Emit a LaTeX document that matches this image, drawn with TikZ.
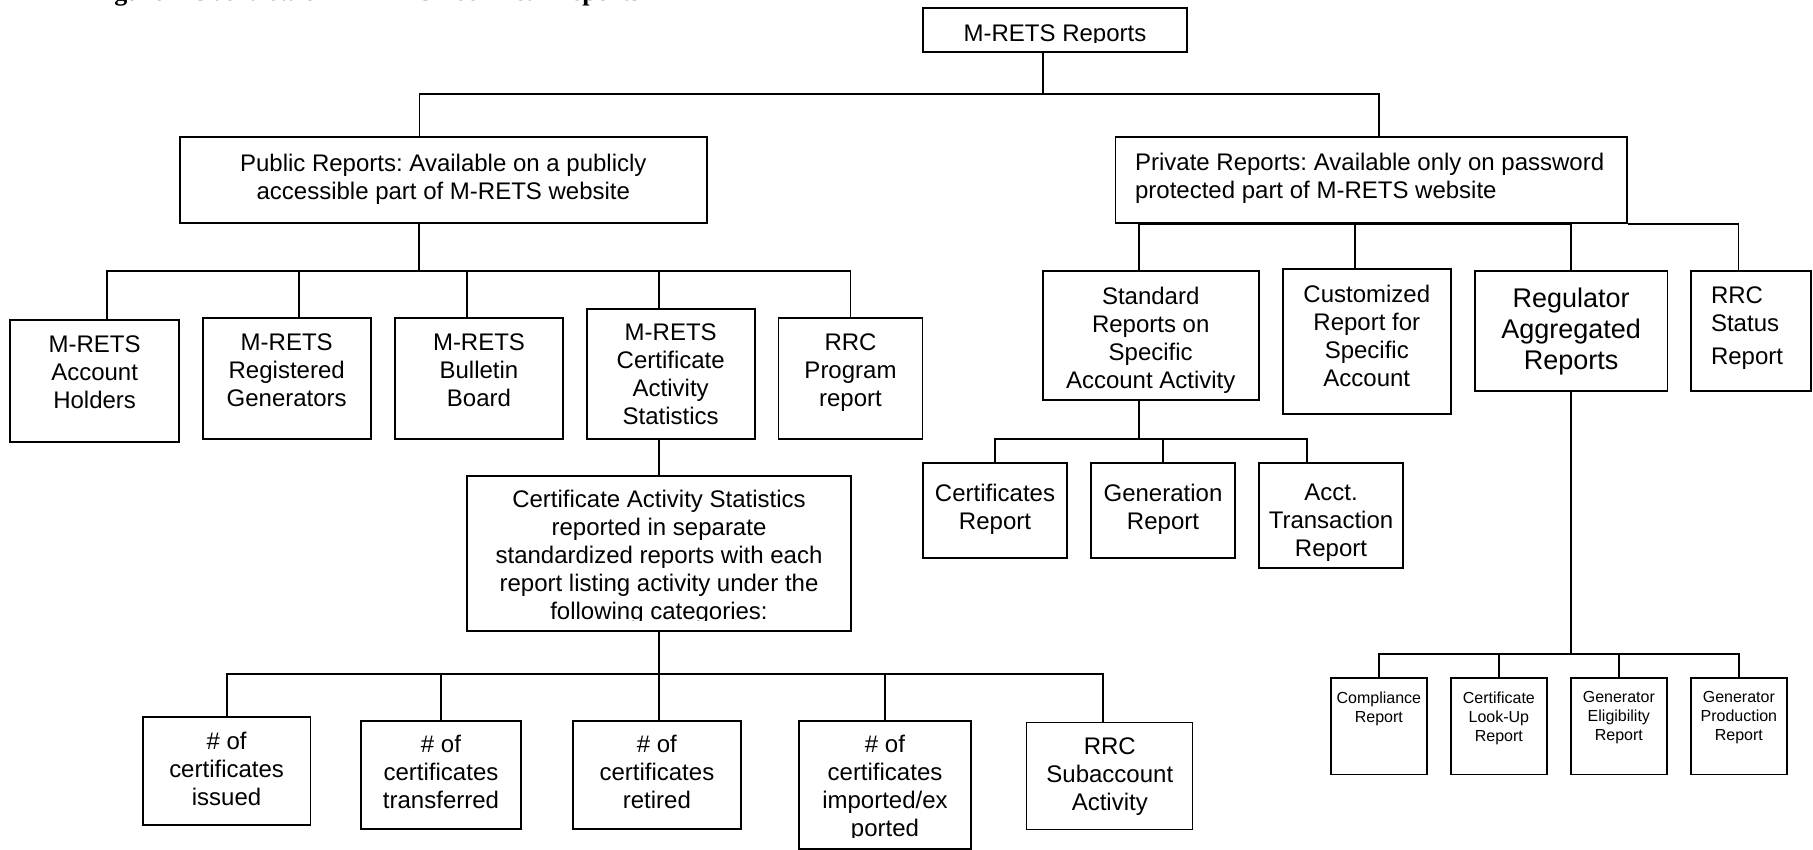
\documentclass[tikz,border=0pt]{standalone}
\usepackage{fontspec}
\setmainfont{Liberation Sans}
\newfontfamily\titlefont{Liberation Serif}
\usetikzlibrary{positioning}
\frenchspacing
\tikzset{
  box/.style={draw, line width=1.8pt, inner sep=0pt},
  txt/.style={inner sep=0pt, align=center, font=\fontsize{24}{28}\selectfont},
  small/.style={inner sep=0pt, align=center, font=\fontsize{16}{19}\selectfont},
  link/.style={line width=1.8pt},
}
\begin{document}
\begin{tikzpicture}[x=1pt,y=-1pt]
\useasboundingbox (0,0) rectangle (1813,850);
\clip (0,0) rectangle (1813,850);
\node[anchor=base west, inner sep=0pt, font=\titlefont\bfseries\fontsize{26}{30}\selectfont] (title) at (91,0.6) {Figure 1 Overview of M-RETS Technical Reports};
% top level
\node[box, minimum width=264.6pt, minimum height=43.4pt] (root) at (1055,30) {};
\begin{scope}
\clip (root.north west) rectangle ([yshift=10pt]root.south east);
\node[txt, below=16.7pt of root.north] (rootT) {M-RETS Reports};
\end{scope}
\node[box, minimum width=527.4pt, minimum height=86.6pt] (pub) at (443.3,180) {};
\node[txt, below=17.7pt of pub.north] (pubT) {Public Reports: Available on a publicly\\accessible part of M-RETS website};
\node[box, minimum width=511.2pt, minimum height=86pt] (priv) at (1371.1,180.3) {};
\node[txt, align=left, below right=17pt and 20.3pt of priv.north west] (privT) {Private Reports: Available only on password\\protected part of M-RETS website};
% public reports
\node[box, minimum width=168.7pt, minimum height=122pt] (acct) at (94.65,381) {};
\node[txt, below=16pt of acct.north] (acctT) {M-RETS\\Account\\Holders};
\node[box, minimum width=168.2pt, minimum height=120.4pt] (gen) at (286.7,378.5) {};
\node[txt, below=16pt of gen.north] (genT) {M-RETS\\Registered\\Generators};
\node[box, minimum width=168pt, minimum height=120.4pt] (bb) at (479,378.5) {};
\node[txt, below=16pt of bb.north] (bbT) {M-RETS\\Bulletin\\Board};
\node[box, minimum width=168.2pt, minimum height=129.7pt] (cas1) at (670.7,373.9) {};
\node[txt, below=15pt of cas1.north] (cas1T) {M-RETS\\Certificate\\Activity\\Statistics};
\node[box, minimum width=144.1pt, minimum height=120.4pt] (rrcp) at (850.5,378.5) {};
\node[txt, below=16pt of rrcp.north] (rrcpT) {RRC\\Program\\report};
\node[box, minimum width=384pt, minimum height=155.3pt] (cas2) at (659,553.3) {};
\begin{scope}
\clip (cas2.north west) rectangle ([yshift=11pt]cas2.south east);
\node[txt, below=15.3pt of cas2.north] (cas2T) {Certificate Activity Statistics\\reported in separate\\standardized reports with each\\report listing activity under the\\following categories:};
\end{scope}
% categories
\node[box, minimum width=167.8pt, minimum height=107.7pt] (iss) at (226.6,771.2) {};
\node[txt, below=15.7pt of iss.north] (issT) {\# of\\certificates\\issued};
\node[box, minimum width=160pt, minimum height=107.7pt] (trn) at (441,774.8) {};
\node[txt, below=15pt of trn.north] (trnT) {\# of\\certificates\\transferred};
\node[box, minimum width=168.2pt, minimum height=107.7pt] (ret) at (656.9,774.8) {};
\node[txt, below=15pt of ret.north] (retT) {\# of\\certificates\\retired};
\node[box, minimum width=172pt, minimum height=128pt] (imp) at (885,785) {};
\begin{scope}
\clip (imp.north west) rectangle ([yshift=12pt]imp.south east);
\node[txt, below=15pt of imp.north] (impT) {\# of\\certificates\\imported/ex\\ported};
\end{scope}
\node[box, line width=1pt, minimum width=166.3pt, minimum height=107pt] (rrcsub) at (1109.8,775.8) {};
\node[txt, below=15.7pt of rrcsub.north] (rrcsubT) {RRC\\Subaccount\\Activity};
% private reports
\node[box, minimum width=216pt, minimum height=129.3pt] (std) at (1150.7,335.3) {};
\node[txt, below=17pt of std.north] (stdT) {Standard\\Reports on\\Specific\\Account Activity};
\node[box, minimum width=168.3pt, minimum height=145.3pt] (cust) at (1366.8,341.7) {};
\node[txt, below=17pt of cust.north] (custT) {Customized\\Report for\\Specific\\Account};
\node[box, minimum width=192.8pt, minimum height=120pt] (reg) at (1571.1,330.7) {};
\node[txt, font=\fontsize{27}{31}\selectfont, below=17.6pt of reg.north] (regT) {Regulator\\Aggregated\\Reports};
\node[box, minimum width=120.5pt, minimum height=120pt] (rrcs) at (1751,330.7) {};
\node[txt, align=left, below right=17pt and 21pt of rrcs.north west] (rrcsT) {RRC\\Status\\[5pt]Report};
\node[box, minimum width=144.6pt, minimum height=95.6pt] (certr) at (995,510.5) {};
\node[txt, below=21.7pt of certr.north] (certrT) {Certificates\\Report};
\node[box, minimum width=144.6pt, minimum height=95.6pt] (genr) at (1163,510.5) {};
\node[txt, below=21.7pt of genr.north] (genrT) {Generation\\Report};
\node[box, minimum width=144.6pt, minimum height=105.6pt] (acctr) at (1331,515.5) {};
\node[txt, below=21.7pt of acctr.north] (acctrT) {Acct.\\Transaction\\Report};
% regulator reports
\node[box, minimum width=96.3pt, minimum height=96.2pt] (comp) at (1378.85,726.4) {};
\node[small, below=14.2pt of comp.north] (compT) {Compliance\\Report};
\node[box, minimum width=96.3pt, minimum height=96.2pt] (look) at (1498.85,726.4) {};
\node[small, below=14.2pt of look.north] (lookT) {Certificate\\Look-Up\\Report};
\node[box, minimum width=96.3pt, minimum height=96.2pt] (elig) at (1618.85,726.4) {};
\node[small, below=14.2pt of elig.north] (eligT) {Generator\\Eligibility\\Report};
\node[box, minimum width=96.3pt, minimum height=96.2pt] (prod) at (1738.85,726.4) {};
\node[small, below=14.2pt of prod.north] (prodT) {Generator\\Production\\Report};
% connectors
\coordinate (bus0) at (1043,94);
\coordinate (bus1) at (419,270.7);
\coordinate (bus2) at (659,674.3);
\coordinate (bus3) at (1138.7,439.3);
\coordinate (bus4) at (1571.1,654.3);
\draw[link] ([xshift=-12pt]root.south) -- (bus0);
\draw[link] ([xshift=-23.8pt]pub.north) |- (bus0) -| ([xshift=8pt]priv.north);
\draw[link] ([xshift=-24.3pt]pub.south) -- (bus1);
\draw[link] ([xshift=12pt]acct.north) |- (bus1) -| (rrcp.north);
\draw[link] ([xshift=12.3pt]gen.north) |- (bus1);
\draw[link] ([xshift=-12.3pt]bb.north) |- (bus1);
\draw[link] ([xshift=-11.7pt]cas1.north) |- (bus1);
\draw[link] ([xshift=-11.7pt]cas1.south) -- (cas2.north);
\draw[link] (cas2.south) -- (cas2.south |- ret.north);
\draw[link] (iss.north) |- (bus2) -| ([xshift=-6.5pt]rrcsub.north);
\draw[link] (trn.north) |- (bus2);
\draw[link] (imp.north) |- (bus2);
\draw[link] (priv.south east) -| ([xshift=-12.5pt]rrcs.north);
\draw[link] ([xshift=-12pt]std.north) |- (priv.south);
\draw[link] ([xshift=-12pt]cust.north) |- (priv.south);
\draw[link] (reg.north) |- (priv.south);
\draw[link] ([xshift=-12pt]std.south) -- (bus3);
\draw[link] (certr.north) |- (bus3) -| ([xshift=-24pt]acctr.north);
\draw[link] (genr.north) |- (bus3);
\draw[link] (reg.south) -- (bus4);
\draw[link] (comp.north) |- (bus4) -| (prod.north);
\draw[link] (look.north) |- (bus4);
\draw[link] (elig.north) |- (bus4);
\end{tikzpicture}
\end{document}
